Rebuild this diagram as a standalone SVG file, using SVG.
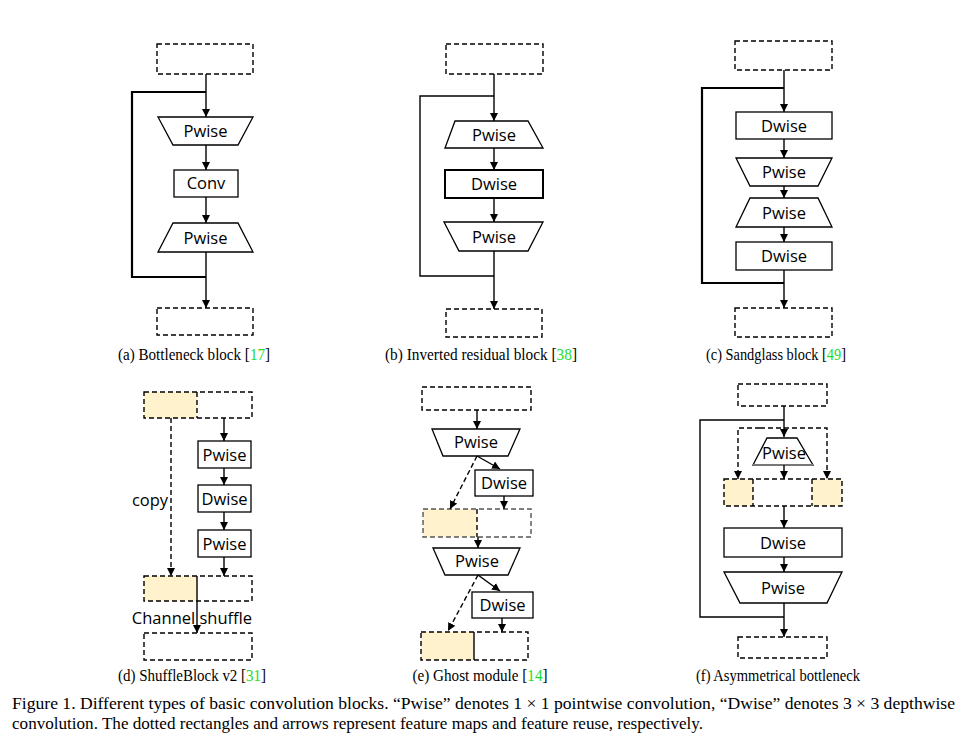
<svg xmlns="http://www.w3.org/2000/svg" width="970" height="743" viewBox="0 0 970 743">
<defs>
<marker id="ah" markerUnits="userSpaceOnUse" markerWidth="9" markerHeight="9" refX="8" refY="4" orient="auto" viewBox="0 0 9 8">
<path d="M0,0 L8,4 L0,8 z" fill="#000" stroke="none"/>
</marker>
<style>
.fm{fill:#fff;stroke:#000;stroke-width:1.4;stroke-dasharray:5,3}
.fmy{fill:#fff2cc;stroke:none}
.dv{stroke:#000;stroke-width:1.4;stroke-dasharray:5,3;fill:none}
.op{fill:#fff;stroke:#000;stroke-width:1.3}
.lb{font-family:"Open Sans","Noto Sans",sans-serif;font-size:16.5px;text-anchor:middle;fill:#000}
.c{stroke:#000;stroke-width:1.4;fill:none;marker-end:url(#ah)}
.cd{stroke:#000;stroke-width:1.4;fill:none;stroke-dasharray:5,3;marker-end:url(#ah)}
.ln{stroke:#000;stroke-width:1.4;fill:none}
.lp{stroke:#000;stroke-width:2.2;fill:none}
.cap{font-family:"Liberation Serif","Times New Roman",serif;font-size:16px;text-anchor:middle;fill:#000}
.g{fill:#22dd22}
.fig{font-family:"Liberation Serif","Times New Roman",serif;font-size:16.5px;fill:#000}
</style>
</defs>
<rect width="970" height="743" fill="#fff"/>

<!-- (a) Bottleneck -->
<g id="a-in"><rect class="fm" x="157" y="44" width="96" height="30"/></g>
<g id="a-pw1"><polygon class="op" points="158,117 253,117 238,145 173,145"/><text class="lb" x="205.5" y="137">Pwise</text></g>
<g id="a-conv"><rect class="op" x="174" y="170" width="64" height="27"/><text class="lb" x="206" y="189">Conv</text></g>
<g id="a-pw2"><polygon class="op" points="173,223 238,223 253,252 158,252"/><text class="lb" x="205.5" y="244">Pwise</text></g>
<g id="a-out"><rect class="fm" x="157" y="308" width="96" height="27"/></g>
<text class="cap" x="194" y="360" textLength="152" lengthAdjust="spacingAndGlyphs">(a) Bottleneck block [<tspan class="g">17</tspan>]</text>

<!-- (b) Inverted residual -->
<g id="b-in"><rect class="fm" x="446" y="44" width="97" height="30"/></g>
<g id="b-pw1"><polygon class="op" points="455,121 528,121 543,148 445,148"/><text class="lb" x="494" y="141">Pwise</text></g>
<g id="b-dw"><rect class="op" x="445" y="170" width="98" height="28" style="stroke-width:2"/><text class="lb" x="494" y="190">Dwise</text></g>
<g id="b-pw2"><polygon class="op" points="444,222 543,222 528,251 459,251"/><text class="lb" x="494" y="243">Pwise</text></g>
<g id="b-out"><rect class="fm" x="446" y="309" width="96" height="28"/></g>
<text class="cap" x="481" y="360" textLength="192" lengthAdjust="spacingAndGlyphs">(b) Inverted residual block [<tspan class="g">38</tspan>]</text>

<!-- (c) Sandglass -->
<g id="c-in"><rect class="fm" x="735" y="41" width="97" height="29"/></g>
<g id="c-dw1"><rect class="op" x="736" y="112" width="96" height="27"/><text class="lb" x="784" y="132">Dwise</text></g>
<g id="c-pw1"><polygon class="op" points="736,158 832,158 818,186 750,186"/><text class="lb" x="784" y="178">Pwise</text></g>
<g id="c-pw2"><polygon class="op" points="750,198 818,198 832,227 736,227"/><text class="lb" x="784" y="219">Pwise</text></g>
<g id="c-dw2"><rect class="op" x="736" y="242" width="96" height="28"/><text class="lb" x="784" y="262">Dwise</text></g>
<g id="c-out"><rect class="fm" x="735" y="308" width="97" height="29"/></g>
<text class="cap" x="776" y="360" textLength="140" lengthAdjust="spacingAndGlyphs">(c) Sandglass block [<tspan class="g">49</tspan>]</text>

<!-- (d) ShuffleBlock v2 -->
<g id="d-in"><rect class="fmy" x="144" y="392" width="53" height="26"/><rect class="fm" x="144" y="392" width="108" height="26" style="fill:none"/><line class="dv" x1="197" y1="392" x2="197" y2="418"/></g>
<g id="d-pw1"><rect class="op" x="198" y="441" width="53" height="27"/><text class="lb" x="224.5" y="461">Pwise</text></g>
<g id="d-dw"><rect class="op" x="198" y="485" width="53" height="27"/><text class="lb" x="224.5" y="505">Dwise</text></g>
<g id="d-pw2"><rect class="op" x="198" y="530" width="53" height="27"/><text class="lb" x="224.5" y="550">Pwise</text></g>
<g id="d-mid"><rect class="fmy" x="144" y="576" width="53" height="25"/><rect class="fm" x="144" y="576" width="108" height="25" style="fill:none"/></g>
<g id="d-out"><rect class="fm" x="144" y="633" width="108" height="27"/></g>
<text class="lb" x="150" y="506">copy</text>
<text class="lb" x="192" y="624">Channel shuffle</text>
<text class="cap" x="192" y="681" textLength="148" lengthAdjust="spacingAndGlyphs">(d) ShuffleBlock v2 [<tspan class="g">31</tspan>]</text>

<!-- (e) Ghost module -->
<g id="e-in"><rect class="fm" x="422" y="387" width="109" height="23"/></g>
<g id="e-pw1"><polygon class="op" points="432,429 520,429 508,456 443,456"/><text class="lb" x="476" y="448">Pwise</text></g>
<g id="e-dw1"><rect class="op" x="475" y="470" width="58" height="26"/><text class="lb" x="504" y="489">Dwise</text></g>
<g id="e-mid"><rect class="fmy" x="423" y="509" width="54" height="28"/><rect class="fm" x="423" y="509" width="108" height="28" style="fill:none;stroke:#555"/><line class="dv" x1="477" y1="509" x2="477" y2="537"/></g>
<g id="e-pw2"><polygon class="op" points="433,548 520,548 508,575 445,575"/><text class="lb" x="477" y="567">Pwise</text></g>
<g id="e-dw2"><rect class="op" x="472" y="592" width="61" height="26"/><text class="lb" x="502.5" y="611">Dwise</text></g>
<g id="e-out"><rect class="fmy" x="421" y="632" width="53" height="28"/><rect class="fm" x="421" y="632" width="107" height="28" style="fill:none"/><line class="ln" x1="474" y1="632" x2="474" y2="660"/></g>
<text class="cap" x="480" y="681" textLength="135" lengthAdjust="spacingAndGlyphs">(e) Ghost module [<tspan class="g">14</tspan>]</text>

<!-- (f) Asymmetrical bottleneck -->
<g id="f-in"><rect class="fm" x="738" y="384" width="89" height="22"/></g>
<g id="f-pw1"><polygon class="op" points="767,438 797,438 813,465 753,465"/><line x1="753" y1="465" x2="813" y2="465" stroke="#777" stroke-width="2"/><text class="lb" x="784" y="459">Pwise</text></g>
<g id="f-mid"><rect class="fmy" x="724" y="479" width="29" height="27"/><rect class="fmy" x="812" y="479" width="30" height="27"/><rect class="fm" x="724" y="479" width="118" height="27" style="fill:none"/><line class="dv" x1="753" y1="479" x2="753" y2="506"/><line class="dv" x1="812" y1="479" x2="812" y2="506"/></g>
<g id="f-dw"><rect class="op" x="724" y="528" width="118" height="29"/><text class="lb" x="783" y="549">Dwise</text></g>
<g id="f-pw2"><polygon class="op" points="724,572 842,572 827,603 740,603"/><text class="lb" x="783" y="594">Pwise</text></g>
<g id="f-out"><rect class="fm" x="738" y="637" width="89" height="21"/></g>
<text class="cap" x="778" y="681" textLength="164" lengthAdjust="spacingAndGlyphs">(f) Asymmetrical bottleneck</text>

<!-- connectors -->
<g id="connectors">
<line class="c" x1="206" y1="74" x2="206" y2="117"/>
<polyline class="lp" points="206,92 132,92 132,277 206,277"/>
<line class="c" x1="206" y1="145" x2="206" y2="170"/>
<line class="c" x1="206" y1="197" x2="206" y2="223"/>
<line class="c" x1="206" y1="252" x2="206" y2="308"/>
<line class="c" x1="494" y1="74" x2="494" y2="121"/>
<polyline class="ln" points="494,96 420,96 420,276 494,276"/>
<line class="c" x1="494" y1="148" x2="494" y2="170"/>
<line class="c" x1="494" y1="198" x2="494" y2="222"/>
<line class="c" x1="494" y1="251" x2="494" y2="309"/>
<line class="c" x1="784" y1="70" x2="784" y2="112"/>
<polyline class="lp" points="784,88 702,88 702,283 784,283"/>
<line class="c" x1="784" y1="139" x2="784" y2="158"/>
<line class="c" x1="784" y1="186" x2="784" y2="198"/>
<line class="c" x1="784" y1="227" x2="784" y2="242"/>
<line class="c" x1="784" y1="270" x2="784" y2="308"/>
<line class="cd" x1="171" y1="418" x2="171" y2="576"/>
<line class="c" x1="224" y1="418" x2="224" y2="441"/>
<line class="c" x1="224" y1="468" x2="224" y2="485"/>
<line class="c" x1="224" y1="512" x2="224" y2="530"/>
<line class="c" x1="224" y1="557" x2="224" y2="576"/>
<line class="c" x1="197" y1="576" x2="197" y2="633"/>
<line class="c" x1="477" y1="410" x2="477" y2="429"/>
<line class="c" x1="477" y1="456" x2="500" y2="469"/>
<line class="cd" x1="477" y1="456" x2="450" y2="509"/>
<line class="c" x1="504" y1="496" x2="504" y2="509"/>
<line class="c" x1="478" y1="537" x2="478" y2="548"/>
<line class="c" x1="478" y1="575" x2="500" y2="591"/>
<line class="cd" x1="478" y1="575" x2="448" y2="631"/>
<line class="c" x1="502" y1="618" x2="502" y2="632"/>
<line class="c" x1="784" y1="406" x2="784" y2="437"/>
<polyline class="ln" points="784,420 700,420 700,617 784,617"/>
<path class="cd" d="M760,428 H738 V479"/>
<path class="cd" d="M760,428 H827 V479"/>
<line class="c" x1="784" y1="465" x2="784" y2="479"/>
<line class="c" x1="784" y1="506" x2="784" y2="528"/>
<line class="c" x1="784" y1="557" x2="784" y2="572"/>
<line class="c" x1="784" y1="603" x2="784" y2="637"/>
</g>

<text class="fig" x="12" y="709" textLength="943" lengthAdjust="spacingAndGlyphs">Figure 1. Different types of basic convolution blocks. “Pwise” denotes 1 × 1 pointwise convolution, “Dwise” denotes 3 × 3 depthwise</text>
<text class="fig" x="12" y="729" textLength="691" lengthAdjust="spacingAndGlyphs">convolution. The dotted rectangles and arrows represent feature maps and feature reuse, respectively.</text>
</svg>
